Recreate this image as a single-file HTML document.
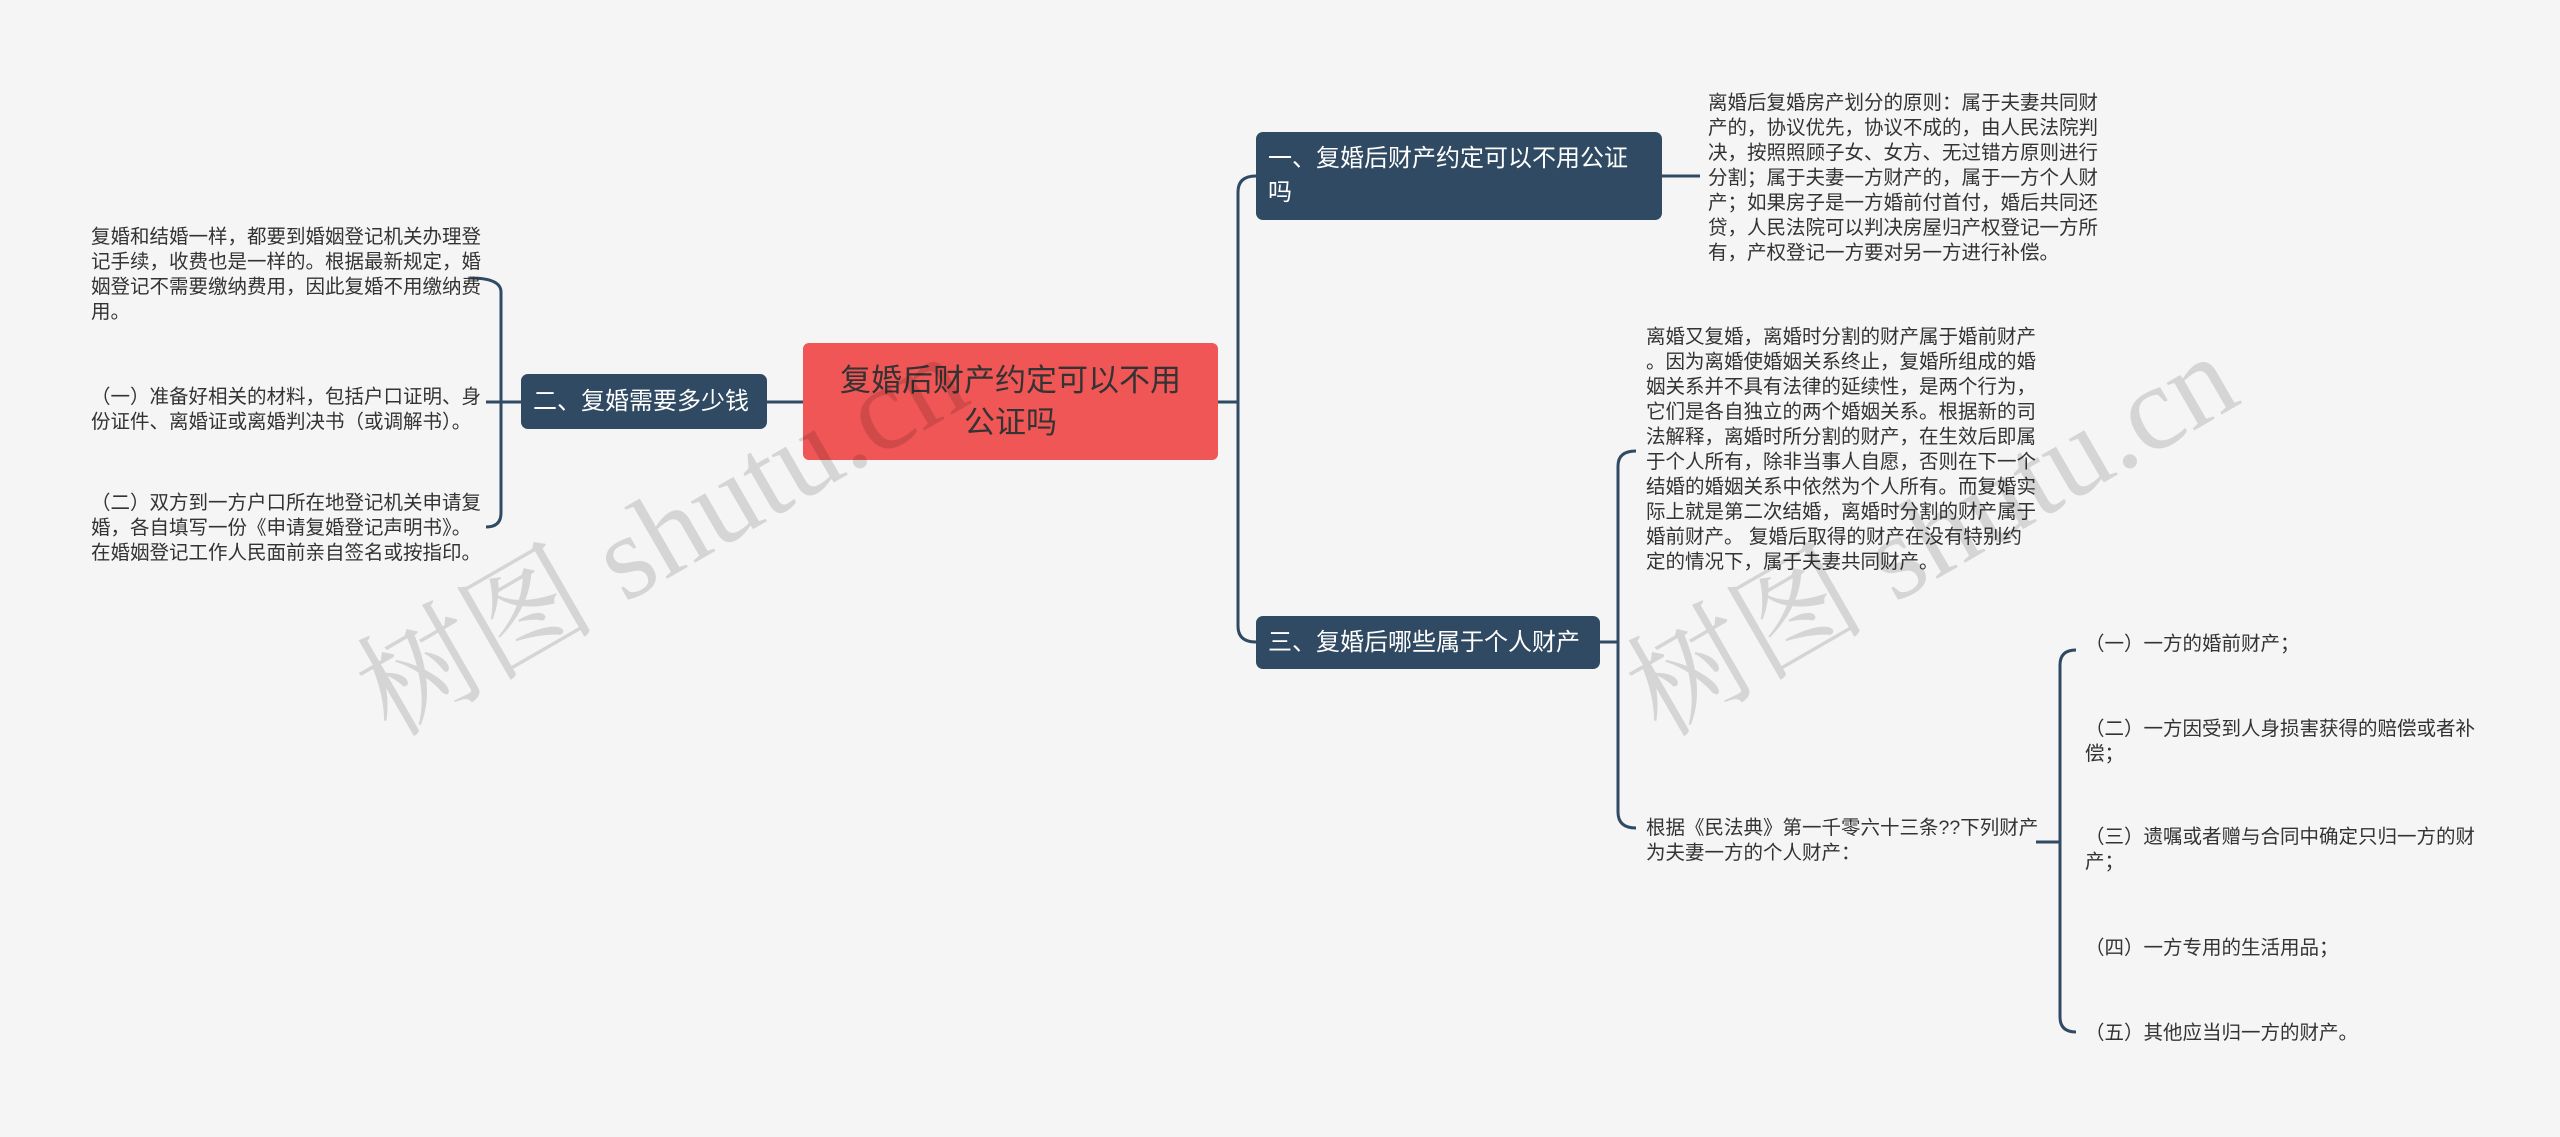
<!DOCTYPE html>
<html><head><meta charset="utf-8"><style>
body{margin:0;width:2560px;height:1137px;background:#f5f5f5;position:relative;overflow:hidden;font-family:"Liberation Sans","Noto Sans CJK SC",sans-serif}
.t{position:absolute;font-size:19.5px;line-height:25px;color:#333;white-space:nowrap}
.n{position:absolute;background:#2f4a62;color:#fff;border-radius:7px;font-size:24px;line-height:34px;box-sizing:border-box;padding:0 12px;display:flex;align-items:center}
.wm{position:absolute;font-family:"Liberation Serif","Noto Serif CJK SC",serif;font-size:120px;color:rgba(0,0,0,0.13);transform:rotate(-30deg);white-space:nowrap}
</style></head><body>
<svg width="2560" height="1137" style="position:absolute;left:0;top:0" fill="none" stroke="#2f4a62" stroke-width="3">
<path d="M803 402 H767"/>
<path d="M488 402 H521"/>
<path d="M470 278 Q501 278 501 292 V513 Q501 527 486 527"/>
<path d="M486 402 H501"/>
<path d="M1218 402 H1238"/>
<path d="M1256 176 Q1238 176 1238 192 V626 Q1238 642 1256 642"/>
<path d="M1662 176 H1700"/>
<path d="M1600 642 H1618"/>
<path d="M1636 451 Q1618 451 1618 466 V812 Q1618 828 1636 828"/>
<path d="M2036 842 H2060"/>
<path d="M2076 650 Q2060 650 2060 665 V1017 Q2060 1032 2076 1032"/>
</svg>
<div style="position:absolute;left:803px;top:343px;width:415px;height:117px;background:#f05656;border-radius:6px;color:#333;font-size:31px;line-height:42px;text-align:center;display:flex;align-items:center;justify-content:center">复婚后财产约定可以不用<br>公证吗</div>
<div class="n" style="left:521px;top:374px;width:246px;height:55px">二、复婚需要多少钱</div>
<div class="n" style="left:1256px;top:132px;width:406px;height:88px">一、复婚后财产约定可以不用公证<br>吗</div>
<div class="n" style="left:1256px;top:616px;width:344px;height:53px">三、复婚后哪些属于个人财产</div>
<div class="t" style="left:91px;top:225px">复婚和结婚一样，都要到婚姻登记机关办理登<br>记手续，收费也是一样的。根据最新规定，婚<br>姻登记不需要缴纳费用，因此复婚不用缴纳费<br>用。</div>
<div class="t" style="left:91px;top:385px">（一）准备好相关的材料，包括户口证明、身<br>份证件、离婚证或离婚判决书（或调解书）。</div>
<div class="t" style="left:91px;top:491px">（二）双方到一方户口所在地登记机关申请复<br>婚，各自填写一份《申请复婚登记声明书》。<br>在婚姻登记工作人民面前亲自签名或按指印。</div>
<div class="t" style="left:1708px;top:91px">离婚后复婚房产划分的原则：属于夫妻共同财<br>产的，协议优先，协议不成的，由人民法院判<br>决，按照照顾子女、女方、无过错方原则进行<br>分割；属于夫妻一方财产的，属于一方个人财<br>产；如果房子是一方婚前付首付，婚后共同还<br>贷，人民法院可以判决房屋归产权登记一方所<br>有，产权登记一方要对另一方进行补偿。</div>
<div class="t" style="left:1646px;top:325px">离婚又复婚，离婚时分割的财产属于婚前财产<br>。因为离婚使婚姻关系终止，复婚所组成的婚<br>姻关系并不具有法律的延续性，是两个行为，<br>它们是各自独立的两个婚姻关系。根据新的司<br>法解释，离婚时所分割的财产，在生效后即属<br>于个人所有，除非当事人自愿，否则在下一个<br>结婚的婚姻关系中依然为个人所有。而复婚实<br>际上就是第二次结婚，离婚时分割的财产属于<br>婚前财产。 复婚后取得的财产在没有特别约<br>定的情况下，属于夫妻共同财产。</div>
<div class="t" style="left:1646px;top:816px">根据《民法典》第一千零六十三条??下列财产<br>为夫妻一方的个人财产：</div>
<div class="t" style="left:2085px;top:632px">（一）一方的婚前财产；</div>
<div class="t" style="left:2085px;top:717px">（二）一方因受到人身损害获得的赔偿或者补<br>偿；</div>
<div class="t" style="left:2085px;top:825px">（三）遗嘱或者赠与合同中确定只归一方的财<br>产；</div>
<div class="t" style="left:2085px;top:936px">（四）一方专用的生活用品；</div>
<div class="t" style="left:2085px;top:1021px">（五）其他应当归一方的财产。</div>
<div class="wm" style="left:320px;top:440px">树图 shutu.cn</div>
<div class="wm" style="left:1590px;top:440px">树图 shutu.cn</div>
</body></html>
